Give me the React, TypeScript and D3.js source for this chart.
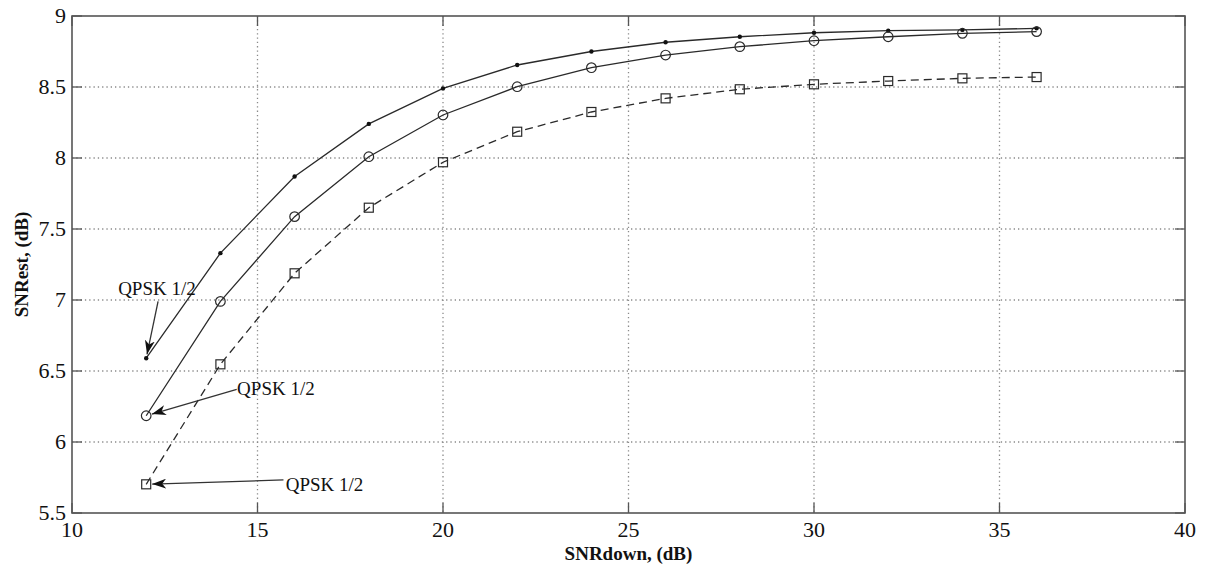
import React from "react";
import * as d3 from "d3";

const snrDown = [12, 14, 16, 18, 20, 22, 24, 26, 28, 30, 32, 34, 36];
const seriesDot = [6.59, 7.33, 7.87, 8.24, 8.49, 8.655, 8.75, 8.815, 8.854, 8.882, 8.897, 8.902, 8.913];
const seriesCircle = [6.185, 6.99, 7.587, 8.009, 8.303, 8.502, 8.636, 8.725, 8.784, 8.826, 8.854, 8.878, 8.89];
const seriesSquare = [5.702, 6.547, 7.188, 7.65, 7.97, 8.185, 8.324, 8.42, 8.484, 8.519, 8.542, 8.561, 8.57];
const xTicks = [10, 15, 20, 25, 30, 35, 40];
const yTicks = [5.5, 6, 6.5, 7, 7.5, 8, 8.5, 9];
const yTickLabels = ["5.5", "6", "6.5", "7", "7.5", "8", "8.5", "9"];
const annotationText = ["QPSK 1/2", "QPSK 1/2", "QPSK 1/2"];
const annotationTextPos = [[12.29, 7.08], [14.45, 6.37], [15.76, 5.7]];
const annotationFrom = [[12.32, 6.99], [14.44, 6.37], [15.7, 5.733]];
const annotationTo = [[12.0, 6.59], [12.0, 6.185], [12.0, 5.702]];

const W = 1208;
const H = 570;
const M = { left: 72, right: 1185, top: 16, bottom: 513 };
const FONT = '"Liberation Serif", "Times New Roman", Times, serif';

export default function App() {
  const x = d3.scaleLinear().domain([10, 40]).range([M.left, M.right]);
  const y = d3.scaleLinear().domain([5.5, 9]).range([M.bottom, M.top]);
  const line = d3
    .line<number>()
    .x((_, i) => x(snrDown[i]))
    .y((d) => y(d));
  const lineColor = "#2a2a2a";
  const gridColor = "#8a8a8a";
  const axisColor = "#555";
  const tickLen = 10;

  const arrows = annotationFrom.map((f, i) => {
    const x1 = x(f[0]);
    const y1 = y(f[1]);
    const tx = x(annotationTo[i][0]);
    const ty = y(annotationTo[i][1]);
    const dx = tx - x1;
    const dy = ty - y1;
    const len = Math.sqrt(dx * dx + dy * dy);
    const off = i === 0 ? 4 : 6;
    return { x1, y1, x2: tx - (dx / len) * off, y2: ty - (dy / len) * off };
  });

  return (
    <svg
      width={W}
      height={H}
      style={{ position: "absolute", left: 0, top: 0, background: "#fff" }}
      fontFamily={FONT}
    >
      <defs>
        <marker
          id="arrowHead"
          viewBox="0 0 14 10"
          refX="14"
          refY="5"
          markerWidth="14"
          markerHeight="10"
          markerUnits="userSpaceOnUse"
          orient="auto"
        >
          <path d="M0,0 L14,5 L0,10 L4,5 Z" fill="#111" />
        </marker>
      </defs>
      <rect x={0} y={0} width={W} height={H} fill="#fff" />
      {xTicks.slice(1, -1).map((t) => (
        <line
          key={"gx" + t}
          x1={x(t)}
          x2={x(t)}
          y1={M.top}
          y2={M.bottom}
          stroke={gridColor}
          strokeWidth={1.3}
          strokeDasharray="1.3,3"
        />
      ))}
      {yTicks.slice(1, -1).map((t) => (
        <line
          key={"gy" + t}
          x1={M.left}
          x2={M.right}
          y1={y(t)}
          y2={y(t)}
          stroke={gridColor}
          strokeWidth={1.3}
          strokeDasharray="1.3,3"
        />
      ))}
      {xTicks.map((t) => (
        <g key={"tx" + t}>
          <line x1={x(t)} x2={x(t)} y1={M.bottom} y2={M.bottom - tickLen} stroke={axisColor} strokeWidth={1.3} />
          <line x1={x(t)} x2={x(t)} y1={M.top} y2={M.top + tickLen} stroke={axisColor} strokeWidth={1.3} />
          <text x={x(t)} y={M.bottom + 24} textAnchor="middle" fontSize={22} fill="#111">
            {t}
          </text>
        </g>
      ))}
      {yTicks.map((t, i) => (
        <g key={"ty" + t}>
          <line x1={M.left} x2={M.left + tickLen} y1={y(t)} y2={y(t)} stroke={axisColor} strokeWidth={1.3} />
          <line x1={M.right} x2={M.right - tickLen} y1={y(t)} y2={y(t)} stroke={axisColor} strokeWidth={1.3} />
          <text x={M.left - 6} y={y(t) + 7} textAnchor="end" fontSize={22} fill="#111">
            {yTickLabels[i]}
          </text>
        </g>
      ))}
      <rect
        x={M.left}
        y={M.top}
        width={M.right - M.left}
        height={M.bottom - M.top}
        fill="none"
        stroke={axisColor}
        strokeWidth={1.6}
      />
      <path d={line(seriesDot) || ""} fill="none" stroke={lineColor} strokeWidth={1.3} />
      <path d={line(seriesCircle) || ""} fill="none" stroke={lineColor} strokeWidth={1.3} />
      <path
        d={line(seriesSquare) || ""}
        fill="none"
        stroke={lineColor}
        strokeWidth={1.3}
        strokeDasharray="8,5"
      />
      {seriesDot.map((v, i) => (
        <circle key={"d" + i} cx={x(snrDown[i])} cy={y(v)} r={2.2} fill="#111" />
      ))}
      {seriesCircle.map((v, i) => (
        <circle key={"c" + i} cx={x(snrDown[i])} cy={y(v)} r={4.8} fill="none" stroke={lineColor} strokeWidth={1.2} />
      ))}
      {seriesSquare.map((v, i) => (
        <rect
          key={"s" + i}
          x={x(snrDown[i]) - 4.5}
          y={y(v) - 4.5}
          width={9}
          height={9}
          fill="none"
          stroke={lineColor}
          strokeWidth={1.2}
        />
      ))}
      {arrows.map((a, i) => (
        <line
          key={"a" + i}
          x1={a.x1}
          y1={a.y1}
          x2={a.x2}
          y2={a.y2}
          stroke="#333"
          strokeWidth={1.3}
          markerEnd="url(#arrowHead)"
        />
      ))}
      {annotationText.map((s, i) => (
        <text
          key={"at" + i}
          x={x(annotationTextPos[i][0])}
          y={y(annotationTextPos[i][1]) + 6}
          textAnchor={i === 0 ? "middle" : "start"}
          fontSize={19}
          fill="#111"
        >
          {s}
        </text>
      ))}
      <text
        x={(M.left + M.right) / 2}
        y={560}
        textAnchor="middle"
        fontSize={19}
        fontWeight="bold"
        fill="#111"
      >
        SNRdown, (dB)
      </text>
      <text
        transform={`translate(28, ${(M.top + M.bottom) / 2}) rotate(-90)`}
        textAnchor="middle"
        fontSize={19}
        fontWeight="bold"
        fill="#111"
      >
        SNRest, (dB)
      </text>
    </svg>
  );
}
